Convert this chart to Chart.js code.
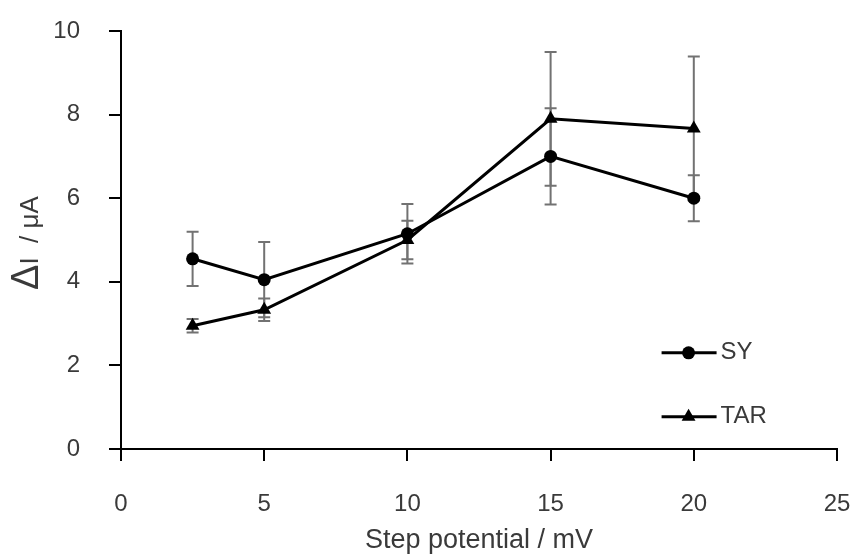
<!DOCTYPE html>
<html>
<head>
<meta charset="utf-8">
<script src="https://cdn.jsdelivr.net/npm/chart.js@4/dist/chart.umd.min.js"></script>
<style>
  html, body { margin: 0; padding: 0; background: #fff; }
  #wrap { width: 854px; height: 557px; position: relative; }
</style>
</head>
<body>
<div id="wrap"><canvas id="chart" width="854" height="557"></canvas></div>
<script>
'use strict';

// ── Data ───────────────────────────────────────────────────────
const stepPotential = [2.5, 5, 10, 15, 20];
const syValues   = [4.55, 4.05, 5.15, 7.0, 6.0];
const syErrors   = [0.65, 0.9, 0.71, 1.15, 0.55];
const tarValues  = [2.95, 3.33, 5.0, 7.9, 7.67];
const tarErrors  = [0.16, 0.27, 0.46, 1.6, 1.72];
const xTicks = [0, 5, 10, 15, 20, 25];
const yTicks = [0, 2, 4, 6, 8, 10];

// ── Style constants ────────────────────────────────────────────
const FONT     = "'Liberation Sans', Arial, sans-serif";
const TEXT_CLR = '#3a3a3a';
const ERR_CLR  = '#727272';

Chart.defaults.font.family = FONT;
Chart.defaults.animation   = false;

function points(values) {
  return stepPotential.map((x, i) => ({ x, y: values[i] }));
}

const AXIS_GRID = {
  drawOnChartArea: false,
  drawTicks: true,
  tickLength: 12,
  color: '#000',
  lineWidth: 2,
};

// ── Error bars ─────────────────────────────────────────────────
const errorBars = {
  id: 'errorBars',
  beforeDatasetsDraw(chart) {
    const { ctx, scales: { x, y } } = chart;
    ctx.save();
    ctx.strokeStyle = ERR_CLR;
    ctx.lineWidth = 2;
    chart.data.datasets.forEach(ds => {
      ds.data.forEach((p, i) => {
        const e  = ds.errors[i];
        const px = x.getPixelForValue(p.x);
        const top = y.getPixelForValue(p.y + e);
        const bot = y.getPixelForValue(p.y - e);
        ctx.beginPath();
        ctx.moveTo(px, top); ctx.lineTo(px, bot);
        ctx.moveTo(px - 6, top); ctx.lineTo(px + 6, top);
        ctx.moveTo(px - 6, bot); ctx.lineTo(px + 6, bot);
        ctx.stroke();
      });
    });
    ctx.restore();
  },
};

// ── Y title with the larger delta glyph ────────────────────────
const yTitle = {
  id: 'yTitle',
  afterDraw(chart) {
    const { ctx, chartArea: a } = chart;
    const mid = (a.top + a.bottom) / 2;
    ctx.save();
    ctx.translate(38, mid + 50);
    ctx.rotate(-Math.PI / 2);
    ctx.fillStyle = TEXT_CLR;
    ctx.textBaseline = 'alphabetic';
    ctx.font = '38px ' + FONT;
    ctx.fillText('Δ', 0, 0);
    const w = ctx.measureText('Δ').width;
    ctx.font = '26px ' + FONT;
    ctx.fillText('I  / μA', w, 0);
    ctx.restore();
  },
};

// ── Legend inside the plot (lower right) ───────────────────────
const insideLegend = {
  id: 'insideLegend',
  afterDraw(chart) {
    const { ctx, chartArea: a } = chart;
    const x0 = a.left + (a.right - a.left) * 0.755;
    const rows = [a.top + (a.bottom - a.top) * 0.770, a.top + (a.bottom - a.top) * 0.923];
    ctx.save();
    chart.data.datasets.forEach((ds, i) => {
      const yy = rows[i];
      ctx.strokeStyle = '#000';
      ctx.lineWidth = 3;
      ctx.beginPath();
      ctx.moveTo(x0, yy); ctx.lineTo(x0 + 55, yy);
      ctx.stroke();
      ctx.fillStyle = '#000';
      Chart.helpers.drawPoint(ctx, {
        pointStyle: ds.pointStyle, radius: ds.pointRadius, borderWidth: 0,
      }, x0 + 27, yy);
      ctx.fillStyle = TEXT_CLR;
      ctx.font = '24px ' + FONT;
      ctx.textBaseline = 'middle';
      ctx.fillText(ds.label, x0 + 59, yy);
    });
    ctx.restore();
  },
};

new Chart(document.getElementById('chart').getContext('2d'), {
  type: 'line',
  data: {
    datasets: [
      {
        label: 'SY',
        data: points(syValues),
        errors: syErrors,
        borderColor: '#000',
        backgroundColor: '#000',
        borderWidth: 3,
        pointStyle: 'circle',
        pointRadius: 6.5,
        pointBorderWidth: 0,
        tension: 0,
      },
      {
        label: 'TAR',
        data: points(tarValues),
        errors: tarErrors,
        borderColor: '#000',
        backgroundColor: '#000',
        borderWidth: 3,
        pointStyle: 'triangle',
        pointRadius: 8,
        pointBorderWidth: 0,
        tension: 0,
      },
    ],
  },
  options: {
    responsive: false,
    layout: { padding: { left: 0, right: 17, top: 31, bottom: 0 } },
    plugins: { legend: { display: false }, tooltip: { enabled: false } },
    scales: {
      x: {
        type: 'linear',
        min: 0, max: 25,
        afterBuildTicks: s => { s.ticks = xTicks.map(v => ({ value: v })); },
        afterFit: s => { s.height = 108; s.paddingLeft = 0; s.paddingRight = 0; },
        grid: AXIS_GRID,
        border: { display: true, color: '#000', width: 2 },
        ticks: { color: TEXT_CLR, font: { size: 24 }, padding: 29, maxRotation: 0 },
        title: {
          display: true, text: 'Step potential / mV', color: TEXT_CLR,
          font: { size: 27 }, padding: { top: 0, bottom: 0 },
        },
      },
      y: {
        min: 0, max: 10,
        afterBuildTicks: s => { s.ticks = yTicks.map(v => ({ value: v })); },
        afterFit: s => { s.width = 121; s.paddingTop = 0; s.paddingBottom = 0; },
        grid: AXIS_GRID,
        border: { display: true, color: '#000', width: 2 },
        ticks: { color: TEXT_CLR, font: { size: 24 }, padding: 29 },
        title: { display: false },
      },
    },
  },
  plugins: [errorBars, yTitle, insideLegend],
});
</script>
</body>
</html>
